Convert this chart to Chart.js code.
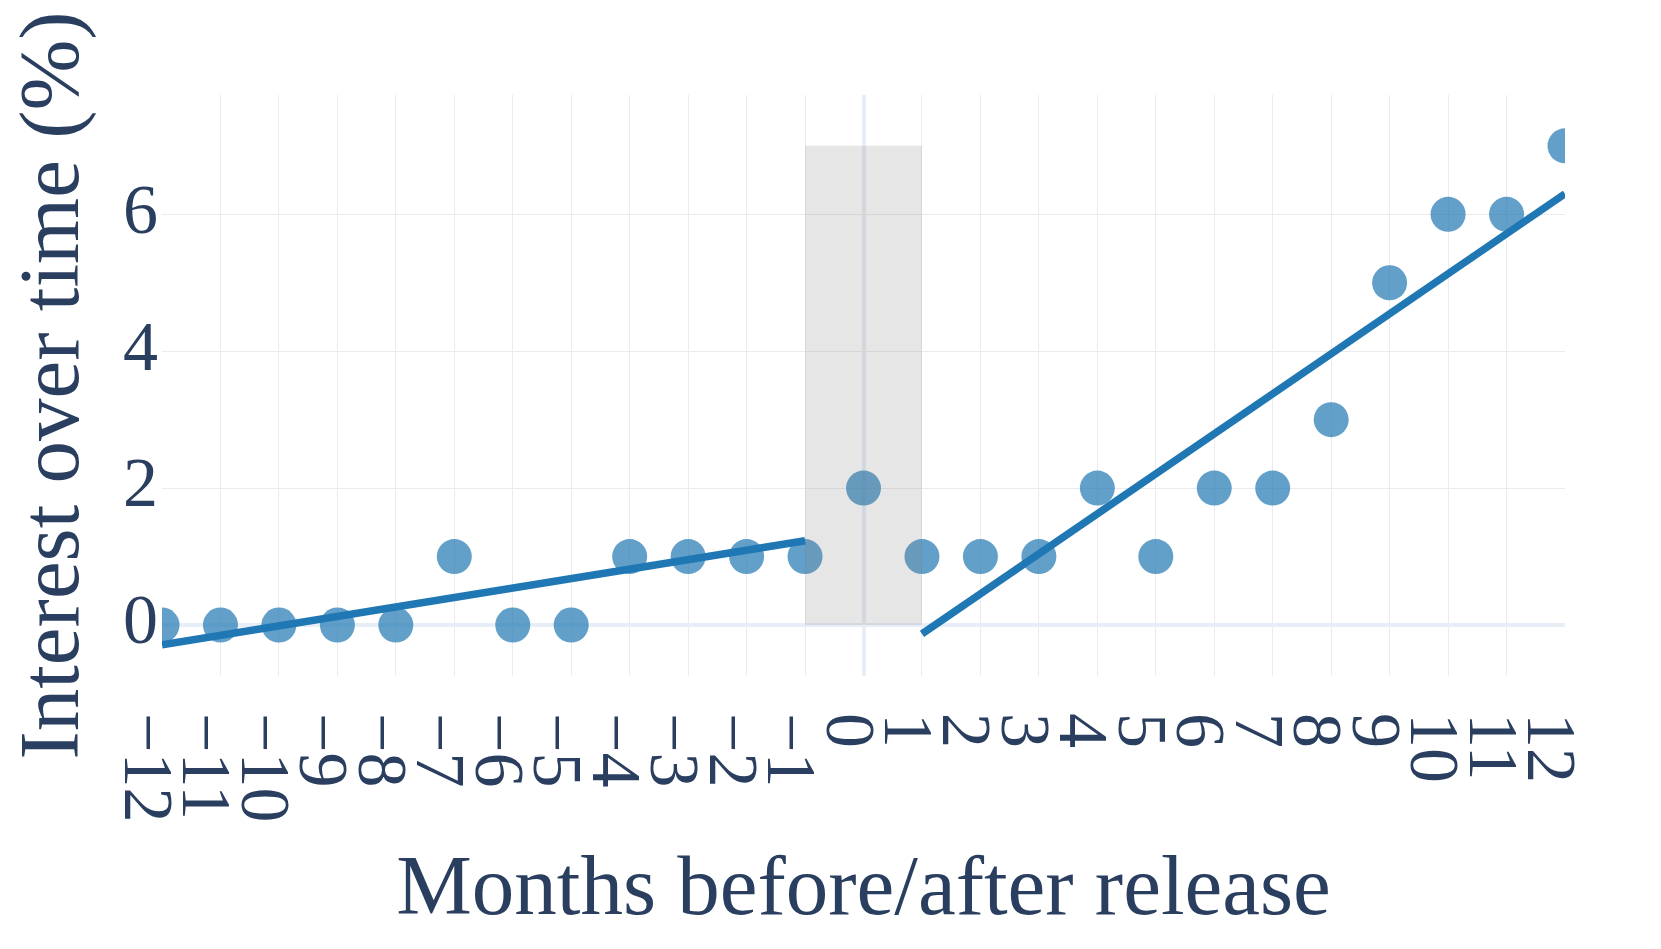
<!DOCTYPE html>
<html>
<head>
<meta charset="utf-8">
<script src="https://cdn.jsdelivr.net/npm/chart.js@4/dist/chart.umd.min.js"></script>
<style>
  html, body { margin: 0; padding: 0; background: #fff; }
  canvas { display: block; }
</style>
</head>
<body>
<canvas id="interestChart" width="1661" height="949"></canvas>
<script>
// months relative to the release and the interest readings
const months = [-12, -11, -10, -9, -8, -7, -6, -5, -4, -3, -2, -1, 0, 1, 2, 3, 4, 5, 6, 7, 8, 9, 10, 11, 12];
const monthLabels = ['−12', '−11', '−10', '−9', '−8', '−7', '−6', '−5', '−4', '−3', '−2', '−1',
  '0', '1', '2', '3', '4', '5', '6', '7', '8', '9', '10', '11', '12'];
const interest = [0, 0, 0, 0, 0, 1, 0, 0, 1, 1, 1, 1, 2, 1, 1, 1, 2, 1, 2, 2, 3, 5, 6, 6, 7];

// trend lines before and after release (end points)
const preTrendX = [-12, -1];
const preTrendY = [-0.29, 1.23];
const postTrendX = [1, 12];
const postTrendY = [-0.13, 6.3];

// shaded release window
const windowX = [-1, 1];
const windowTop = [7, 7];

const yTicks = [0, 2, 4, 6];

const textColor = '#2a3f5f';
const serif = '"Liberation Serif", "Times New Roman", serif';

const toPoints = (xs, ys) => xs.map((x, i) => ({ x: x, y: ys[i] }));

// x tick labels read top to bottom, so draw them by hand
const rotatedXTicks = {
    id: 'rotatedXTicks',
    afterDraw(chart) {
        const { ctx, scales: { x } } = chart;
        ctx.save();
        ctx.font = '70px ' + serif;
        ctx.fillStyle = textColor;
        ctx.textAlign = 'left';
        ctx.textBaseline = 'alphabetic';
        months.forEach((m, i) => {
            ctx.save();
            ctx.translate(x.getPixelForValue(m) - 37, 713);
            ctx.rotate(Math.PI / 2);
            ctx.fillText(monthLabels[i], 0, 0);
            ctx.restore();
        });
        ctx.restore();
    }
};

const ctx = document.getElementById('interestChart').getContext('2d');
const chart = new Chart(ctx, {
    type: 'scatter',
    data: {
        datasets: [
            {
                label: 'release window',
                data: toPoints(windowX, windowTop),
                showLine: true,
                borderWidth: 0,
                pointRadius: 0,
                fill: 'origin',
                backgroundColor: 'rgba(128,128,128,0.2)',
                clip: 0,
                order: 0
            },
            {
                label: 'trend before',
                data: toPoints(preTrendX, preTrendY),
                showLine: true,
                borderColor: '#1f77b4',
                borderWidth: 7.5,
                pointRadius: 0,
                clip: 0,
                order: 1
            },
            {
                label: 'trend after',
                data: toPoints(postTrendX, postTrendY),
                showLine: true,
                borderColor: '#1f77b4',
                borderWidth: 7.5,
                pointRadius: 0,
                clip: 0,
                order: 1
            },
            {
                label: 'interest',
                data: toPoints(months, interest),
                backgroundColor: 'rgba(31,119,180,0.7)',
                borderWidth: 0,
                pointRadius: 17.5,
                clip: 0,
                order: 2
            }
        ]
    },
    options: {
        responsive: false,
        animation: false,
        devicePixelRatio: 1,
        layout: {
            padding: { top: 95, right: 96, left: 0, bottom: 0 }
        },
        plugins: {
            legend: { display: false },
            tooltip: { enabled: false }
        },
        scales: {
            x: {
                type: 'linear',
                min: -12,
                max: 12,
                border: { display: false },
                grid: {
                    drawTicks: false,
                    color: (c) => c.tick && c.tick.value === 0 ? '#e8eef7'
                        : (c.tick && Math.abs(c.tick.value) === 12 ? 'rgba(0,0,0,0)' : '#ebebeb'),
                    lineWidth: (c) => c.tick && c.tick.value === 0 ? 4 : 1
                },
                ticks: { display: false, stepSize: 1 },
                title: {
                    display: true,
                    text: 'Months before/after release',
                    color: textColor,
                    font: { family: serif, size: 85 },
                    padding: { top: 0, bottom: 6 }
                },
                afterFit: (scale) => { scale.height = 273; }
            },
            y: {
                type: 'linear',
                min: -0.745,
                max: 7.743,
                border: { display: false },
                grid: {
                    drawTicks: false,
                    color: (c) => c.tick && c.tick.value === 0 ? '#e8eef7' : '#ebebeb',
                    lineWidth: (c) => c.tick && c.tick.value === 0 ? 4 : 1
                },
                afterBuildTicks: (scale) => { scale.ticks = yTicks.map(v => ({ value: v })); },
                ticks: {
                    color: textColor,
                    font: { family: serif, size: 70 },
                    padding: 4
                },
                title: {
                    display: true,
                    text: 'Interest over time (%)',
                    color: textColor,
                    font: { family: serif, size: 85 },
                    padding: { top: 5, bottom: 0 }
                },
                afterFit: (scale) => { scale.width = 162; }
            }
        }
    },
    plugins: [rotatedXTicks]
});
</script>
</body>
</html>
